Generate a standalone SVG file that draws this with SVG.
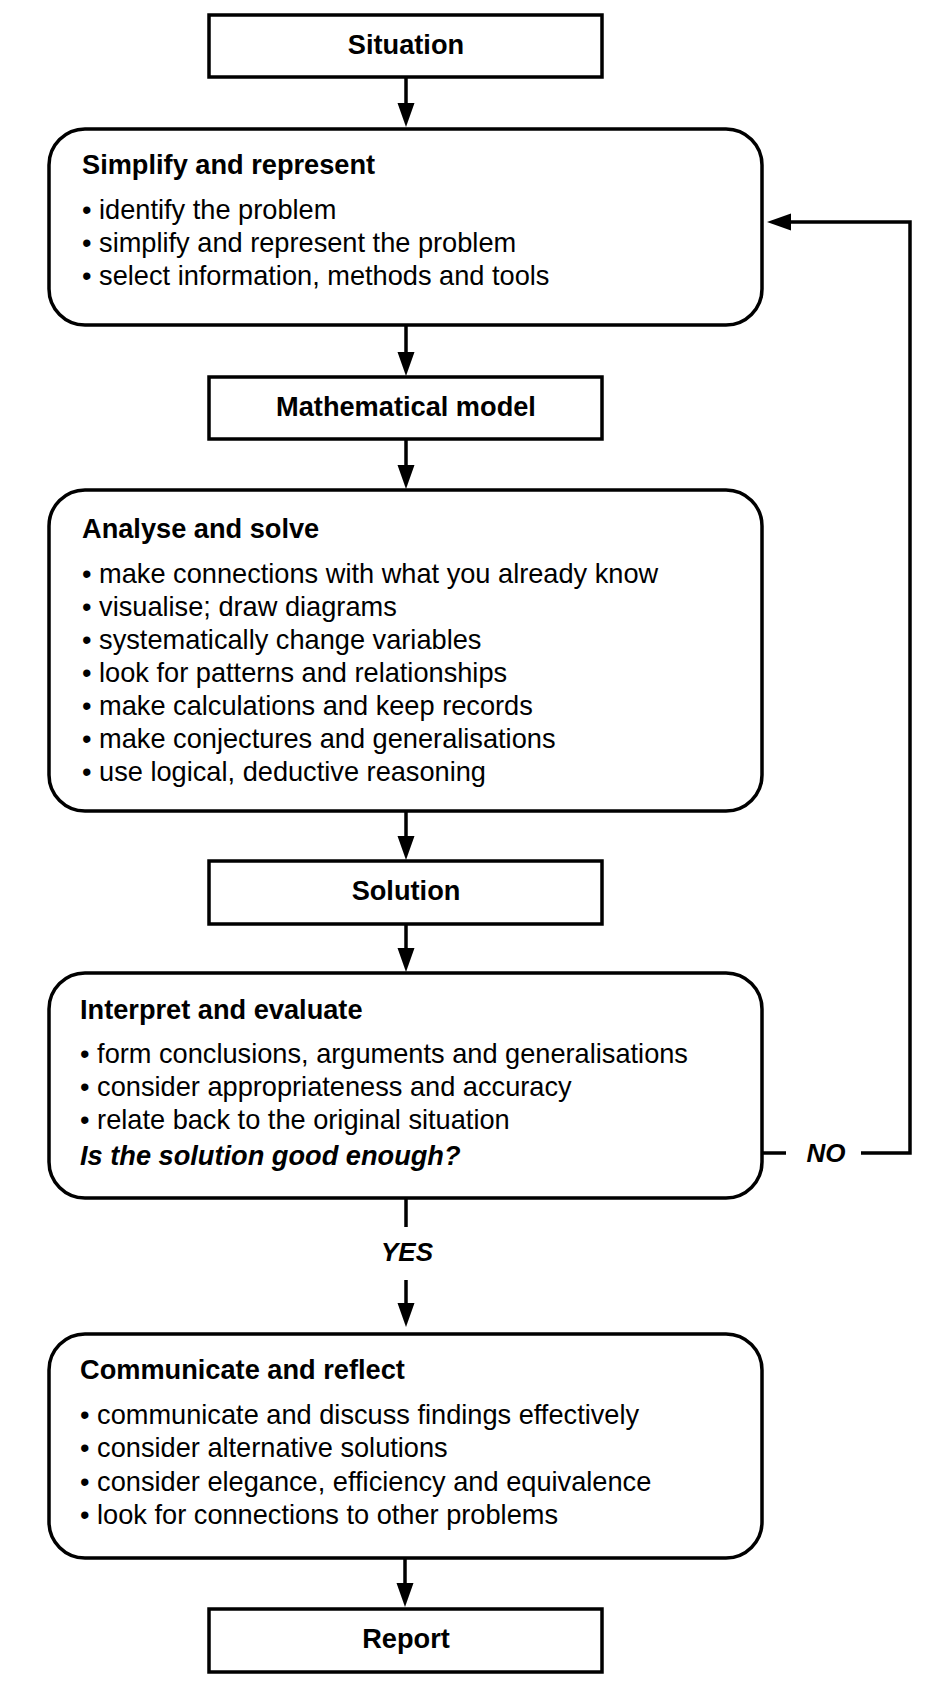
<svg xmlns="http://www.w3.org/2000/svg" width="945" height="1696" viewBox="0 0 945 1696">
<style>
.box{fill:#fff;stroke:#000;stroke-width:3.5}
.ln{fill:none;stroke:#000;stroke-width:3.5}
.t{font-family:"Liberation Sans",Arial,sans-serif;font-size:27.2px;fill:#000}
.b{font-weight:bold}
.c{text-anchor:middle}
.bi{font-weight:bold;font-style:italic}
.yn{font-size:26px}
</style>
<defs>
<marker id="ah" markerUnits="userSpaceOnUse" markerWidth="26" markerHeight="18" refX="2" refY="8.5" orient="auto">
<path d="M0,0 L24,8.5 L0,17 Z" fill="#000"/>
</marker>
</defs>
<rect width="945" height="1696" fill="#fff"/>
<g id="connectors">
<line class="ln" x1="406" y1="77" x2="406" y2="105" marker-end="url(#ah)"/>
<line class="ln" x1="406" y1="325" x2="406" y2="354" marker-end="url(#ah)"/>
<line class="ln" x1="406" y1="439" x2="406" y2="467" marker-end="url(#ah)"/>
<line class="ln" x1="406" y1="811" x2="406" y2="838" marker-end="url(#ah)"/>
<line class="ln" x1="406" y1="924" x2="406" y2="950" marker-end="url(#ah)"/>
<line class="ln" x1="406" y1="1198" x2="406" y2="1227"/>
<line class="ln" x1="406" y1="1280" x2="406" y2="1305" marker-end="url(#ah)"/>
<line class="ln" x1="405" y1="1558" x2="405" y2="1585" marker-end="url(#ah)"/>
<line class="ln" x1="762" y1="1153" x2="786" y2="1153"/>
<path class="ln" d="M861,1153 H910 V222 H789" marker-end="url(#ah)"/>
<text class="t bi c yn" x="407" y="1261">YES</text>
<text class="t bi c yn" x="826" y="1162">NO</text>
</g>
<g id="situation">
<rect class="box" x="209" y="15" width="393" height="62"/>
<text class="t b c" x="406" y="54">Situation</text>
</g>
<g id="simplify">
<rect class="box" x="49" y="129" width="713" height="196" rx="36"/>
<text class="t b" x="82" y="174">Simplify and represent</text>
<text class="t" x="82" y="219">• identify the problem</text>
<text class="t" x="82" y="252">• simplify and represent the problem</text>
<text class="t" x="82" y="285">• select information, methods and tools</text>
</g>
<g id="model">
<rect class="box" x="209" y="377" width="393" height="62"/>
<text class="t b c" x="406" y="416">Mathematical model</text>
</g>
<g id="analyse">
<rect class="box" x="49" y="490" width="713" height="321" rx="36"/>
<text class="t b" x="82" y="538">Analyse and solve</text>
<text class="t" x="82" y="583">• make connections with what you already know</text>
<text class="t" x="82" y="616">• visualise; draw diagrams</text>
<text class="t" x="82" y="649">• systematically change variables</text>
<text class="t" x="82" y="682">• look for patterns and relationships</text>
<text class="t" x="82" y="715">• make calculations and keep records</text>
<text class="t" x="82" y="748">• make conjectures and generalisations</text>
<text class="t" x="82" y="781">• use logical, deductive reasoning</text>
</g>
<g id="solution">
<rect class="box" x="209" y="861" width="393" height="63"/>
<text class="t b c" x="406" y="900">Solution</text>
</g>
<g id="interpret">
<rect class="box" x="49" y="973" width="713" height="225" rx="36"/>
<text class="t b" x="80" y="1019">Interpret and evaluate</text>
<text class="t" x="80" y="1063">• form conclusions, arguments and generalisations</text>
<text class="t" x="80" y="1096">• consider appropriateness and accuracy</text>
<text class="t" x="80" y="1129">• relate back to the original situation</text>
<text class="t bi" x="80" y="1165">Is the solution good enough?</text>
</g>
<g id="communicate">
<rect class="box" x="49" y="1334" width="713" height="224" rx="36"/>
<text class="t b" x="80" y="1379">Communicate and reflect</text>
<text class="t" x="80" y="1424">• communicate and discuss findings effectively</text>
<text class="t" x="80" y="1457">• consider alternative solutions</text>
<text class="t" x="80" y="1491">• consider elegance, efficiency and equivalence</text>
<text class="t" x="80" y="1524">• look for connections to other problems</text>
</g>
<g id="report">
<rect class="box" x="209" y="1609" width="393" height="63"/>
<text class="t b c" x="406" y="1648">Report</text>
</g>
</svg>
